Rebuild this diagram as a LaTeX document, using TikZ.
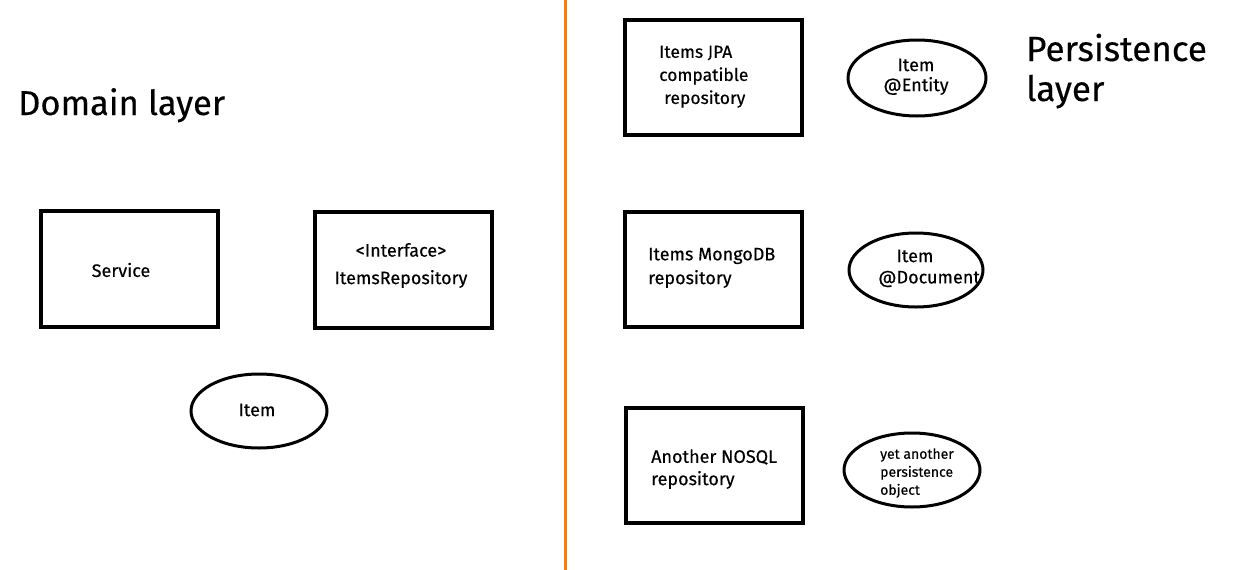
\documentclass[tikz,border=0pt]{standalone}
\usepackage{fontspec}
\setmainfont{Fira Sans}[FakeBold=0.35]
\usetikzlibrary{shapes.geometric}
\definecolor{divider}{HTML}{FF7B00}
\tikzset{
  box/.style={draw=black, line width=4pt, fill=white},
  obj/.style={draw=black, line width=3pt},
  lbl/.style={inner sep=0pt, font=\fontsize{18}{23}\selectfont},
  lblsm/.style={inner sep=0pt, font=\fontsize{17.5}{23}\selectfont},
  big/.style={inner sep=0pt, font=\fontsize{34}{41}\selectfont},
}
\begin{document}
\begin{tikzpicture}[x=1pt,y=-1pt]
\useasboundingbox (0,0) rectangle (1234,570);
\fill[white] (0,0) rectangle (1234,570);
% divider
\coordinate (dtop) at (565,0);
\coordinate (dbot) at (565,570);
\draw[divider, line width=3pt] (dtop) -- (dbot);
% headings
\node[big, anchor=base west, font=\fontsize{34.5}{41}\selectfont] (domain) at (18,115) {Domain layer};
\node[big, anchor=base west, font=\fontsize{35}{41}\selectfont] (persist1) at (1026,61) {Persistence};
\node[big, anchor=base west, font=\fontsize{35}{41}\selectfont] (persist2) at (1026,101) {layer};
% domain side
\draw[box] (41,211) rectangle (218,327);
\node[lbl] (service) at (121,270) {Service};
\draw[box] (315,212) rectangle (492,328);
\node[lbl] (iface) at (401,250) {<Interface>};
\node[lbl] (irepo) at (401,279) {ItemsRepository};
\draw[obj] (259,411) ellipse [x radius=68, y radius=37];
\node[lbl] (item) at (257,410) {Item};
% persistence side
\draw[box] (625,20) rectangle (802,135);
\node[lblsm, anchor=west] (jpa1) at (659,53) {Items JPA};
\node[lblsm, anchor=west] (jpa2) at (659,76) {compatible};
\node[lblsm, anchor=west] (jpa3) at (664,99) {repository};
\draw[obj] (917,78) ellipse [x radius=69, y radius=38];
\node[lbl] (ent1) at (916,65) {Item};
\node[lbl] (ent2) at (916,86) {@Entity};
\draw[box] (625,212) rectangle (802,327);
\node[lbl, anchor=west] (mongo1) at (648,256) {Items MongoDB};
\node[lbl, anchor=west] (mongo2) at (648,279) {repository};
\draw[obj] (916,270) ellipse [x radius=67, y radius=37];
\node[lbl] (doc1) at (915,256) {Item};
\node[lbl, anchor=west] (doc2) at (878,279) {@Document};
\draw[box] (626,408) rectangle (803,523);
\node[lbl, anchor=west] (nosql1) at (651,457) {Another NOSQL};
\node[lbl, anchor=west] (nosql2) at (651,480) {repository};
\draw[obj] (912,470) ellipse [x radius=68, y radius=37];
\node[inner sep=0pt, anchor=west, font=\fontsize{14}{18}\selectfont, align=left] (yet) at (880,473) {yet another\\persistence\\object};
\end{tikzpicture}
\end{document}
